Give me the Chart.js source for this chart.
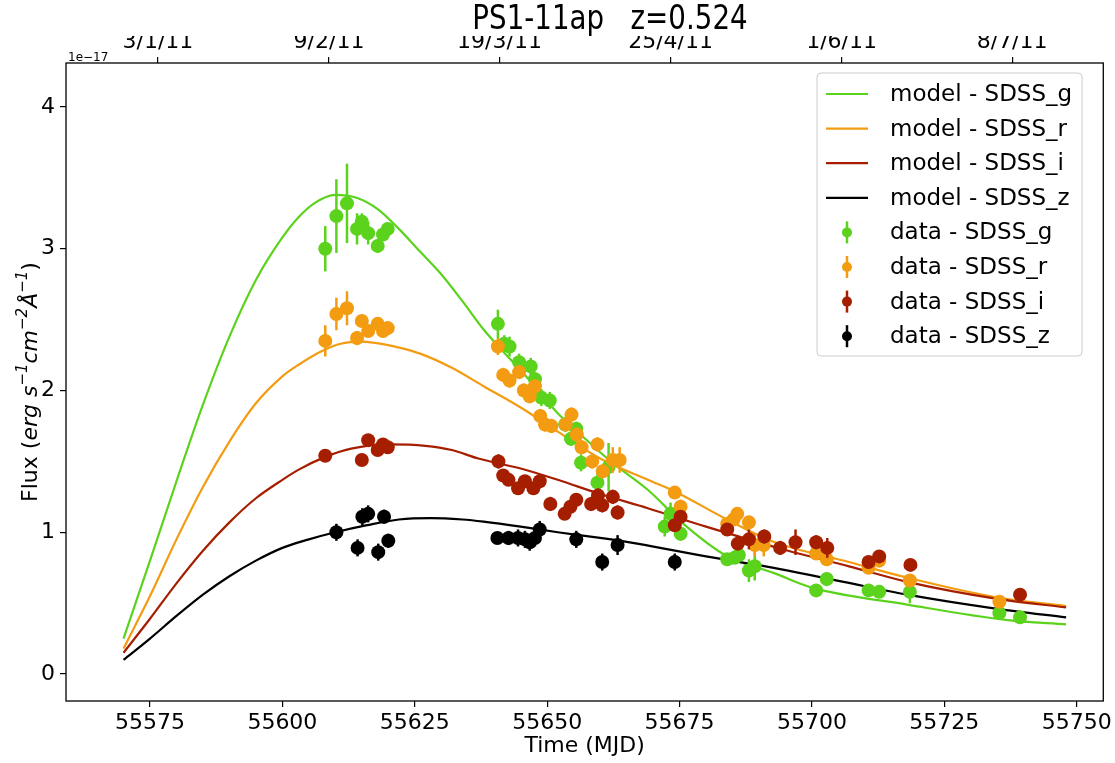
<!DOCTYPE html>
<html>
<head>
<meta charset="utf-8">
<script src="https://cdn.jsdelivr.net/npm/chart.js@4.4.1/dist/chart.umd.min.js"></script>
<style>
  html, body { margin: 0; padding: 0; background: #fff; }
  #wrap { width: 1115px; height: 763px; }
</style>
</head>
<body>
<div id="wrap"><canvas id="chart" width="1115" height="763"></canvas></div>
<script>
// PS1-11ap light curve (flux in units of 1e-17)
const FONT = 'DejaVu Sans';

const xTicks = [55575, 55600, 55625, 55650, 55675, 55700, 55725, 55750];
const yTicks = [0, 1, 2, 3, 4];
const topTickPos = [55576.5, 55608.8, 55641.0, 55673.3, 55705.6, 55737.8];
const topTickLabels = ['3/1/11', '9/2/11', '19/3/11', '25/4/11', '1/6/11', '8/7/11'];

// model curves
const gModT = [55570, 55575, 55580, 55585, 55590, 55595, 55600, 55603, 55606, 55610, 55614, 55618, 55622, 55626, 55630, 55634, 55638, 55646, 55652, 55656, 55662, 55669, 55676, 55684, 55693, 55700, 55718, 55737, 55748];
const gModF = [0.25, 0.80, 1.36, 1.90, 2.38, 2.78, 3.08, 3.22, 3.32, 3.38, 3.36, 3.28, 3.14, 2.98, 2.82, 2.63, 2.43, 2.10, 1.84, 1.70, 1.50, 1.30, 1.05, 0.83, 0.71, 0.61, 0.49, 0.38, 0.35];
const rModT = [55570, 55575, 55580, 55585, 55590, 55595, 55600, 55603, 55607, 55611, 55615, 55620, 55626, 55632, 55638, 55645, 55652, 55660, 55669, 55674, 55684, 55693, 55707, 55718, 55735, 55748];
const rModF = [0.18, 0.55, 0.95, 1.32, 1.64, 1.91, 2.10, 2.18, 2.27, 2.33, 2.345, 2.32, 2.26, 2.16, 2.03, 1.88, 1.71, 1.52, 1.37, 1.29, 1.09, 0.93, 0.79, 0.68, 0.54, 0.48];
const iModT = [55570, 55575, 55580, 55585, 55590, 55595, 55600, 55603, 55608, 55613, 55620, 55627, 55632, 55637, 55645, 55652, 55660, 55669, 55680, 55695, 55707, 55718, 55735, 55748];
const iModF = [0.15, 0.39, 0.64, 0.87, 1.07, 1.24, 1.37, 1.44, 1.53, 1.59, 1.62, 1.61, 1.58, 1.52, 1.45, 1.37, 1.27, 1.17, 1.04, 0.875, 0.76, 0.65, 0.53, 0.47];
const zModT = [55570, 55575, 55580, 55585, 55590, 55595, 55600, 55605, 55610, 55616, 55622, 55628, 55634, 55638, 55645, 55652, 55660, 55667, 55680, 55694, 55706, 55718, 55735, 55748];
const zModF = [0.10, 0.25, 0.41, 0.56, 0.69, 0.80, 0.89, 0.95, 1.00, 1.05, 1.09, 1.10, 1.09, 1.075, 1.04, 1.00, 0.96, 0.92, 0.83, 0.74, 0.65, 0.56, 0.46, 0.40];

// observed photometry
const gT = [55608.1, 55610.2, 55612.2, 55614.1, 55615.0, 55616.2, 55618.0, 55619.0, 55619.9, 55640.7, 55641.9, 55642.9, 55644.7, 55646.9, 55647.7, 55648.9, 55650.5, 55653.4, 55654.5, 55655.5, 55656.4, 55659.5, 55661.6, 55672.2, 55673.3, 55675.2, 55684.0, 55685.4, 55686.2, 55688.1, 55689.2, 55700.8, 55702.8, 55710.7, 55712.7, 55718.5, 55735.4, 55739.3];
const gF = [3.00, 3.23, 3.32, 3.14, 3.19, 3.11, 3.02, 3.10, 3.14, 2.47, 2.33, 2.31, 2.20, 2.17, 2.08, 1.95, 1.93, 1.76, 1.66, 1.73, 1.49, 1.35, 1.46, 1.04, 1.13, 0.99, 0.81, 0.82, 0.84, 0.73, 0.76, 0.59, 0.67, 0.59, 0.58, 0.58, 0.43, 0.40];
const gE = [0.16, 0.26, 0.28, 0.11, 0.06, 0.08, 0.05, 0.04, 0.04, 0.10, 0.06, 0.07, 0.06, 0.06, 0.05, 0.06, 0.06, 0.05, 0.05, 0.05, 0.06, 0.06, 0.17, 0.07, 0.08, 0.05, 0.04, 0.04, 0.04, 0.08, 0.10, 0.04, 0.05, 0.04, 0.04, 0.08, 0.03, 0.04];

const rT = [55608.1, 55610.2, 55612.2, 55614.1, 55615.0, 55616.2, 55618.0, 55619.0, 55619.9, 55640.7, 55641.7, 55642.9, 55644.7, 55645.6, 55646.7, 55647.7, 55648.7, 55649.6, 55650.8, 55653.5, 55654.6, 55655.6, 55656.5, 55658.5, 55659.5, 55660.5, 55662.4, 55663.7, 55674.1, 55675.2, 55684.0, 55685.2, 55685.9, 55688.1, 55689.2, 55690.9, 55700.8, 55702.8, 55710.7, 55712.7, 55718.5, 55735.4];
const rF = [2.35, 2.54, 2.58, 2.37, 2.49, 2.42, 2.47, 2.42, 2.44, 2.31, 2.11, 2.07, 2.13, 2.00, 1.96, 2.03, 1.82, 1.76, 1.75, 1.76, 1.83, 1.69, 1.60, 1.50, 1.62, 1.43, 1.51, 1.51, 1.28, 1.18, 1.06, 1.09, 1.13, 1.07, 0.91, 0.91, 0.85, 0.81, 0.75, 0.80, 0.66, 0.51];
const rE = [0.11, 0.115, 0.12, 0.05, 0.04, 0.04, 0.04, 0.04, 0.03, 0.06, 0.05, 0.05, 0.05, 0.05, 0.05, 0.05, 0.05, 0.05, 0.05, 0.05, 0.05, 0.05, 0.05, 0.05, 0.05, 0.05, 0.09, 0.09, 0.04, 0.05, 0.04, 0.04, 0.04, 0.04, 0.08, 0.08, 0.04, 0.04, 0.04, 0.04, 0.04, 0.03];

const iT = [55608.1, 55615.0, 55616.2, 55618.0, 55619.0, 55619.9, 55640.8, 55641.7, 55642.7, 55644.5, 55645.8, 55647.4, 55648.6, 55650.6, 55653.3, 55654.4, 55655.5, 55658.3, 55659.6, 55660.4, 55662.4, 55663.3, 55674.1, 55675.2, 55684.0, 55686.0, 55688.1, 55691.0, 55694.0, 55696.9, 55700.8, 55702.9, 55710.7, 55712.7, 55718.6, 55739.3];
const iF = [1.54, 1.51, 1.65, 1.58, 1.62, 1.60, 1.50, 1.40, 1.37, 1.31, 1.36, 1.31, 1.36, 1.20, 1.13, 1.18, 1.23, 1.20, 1.26, 1.19, 1.25, 1.14, 1.05, 1.11, 1.02, 0.92, 0.95, 0.97, 0.89, 0.93, 0.93, 0.89, 0.79, 0.83, 0.77, 0.56];
const iE = [0.03, 0.03, 0.03, 0.03, 0.03, 0.03, 0.05, 0.03, 0.03, 0.03, 0.03, 0.03, 0.05, 0.05, 0.04, 0.04, 0.04, 0.05, 0.05, 0.05, 0.05, 0.05, 0.04, 0.04, 0.04, 0.04, 0.07, 0.05, 0.05, 0.09, 0.05, 0.07, 0.04, 0.04, 0.04, 0.03];

const zT = [55610.2, 55614.2, 55615.1, 55616.2, 55618.1, 55619.2, 55620.0, 55640.6, 55642.7, 55644.5, 55645.8, 55646.7, 55647.7, 55648.6, 55655.5, 55660.4, 55663.3, 55674.1];
const zF = [1.00, 0.89, 1.11, 1.13, 0.86, 1.11, 0.94, 0.96, 0.96, 0.96, 0.95, 0.93, 0.96, 1.02, 0.95, 0.79, 0.91, 0.79];
const zE = [0.06, 0.06, 0.06, 0.06, 0.06, 0.05, 0.05, 0.04, 0.05, 0.06, 0.06, 0.06, 0.06, 0.06, 0.06, 0.06, 0.07, 0.06];

const COL = { g: '#5bd31d', r: '#f39c12', i: '#a61e00', z: '#000000' };

function pts(t, f) { return t.map((v, k) => ({ x: v, y: f[k] })); }

function modelSet(label, t, f, c, ord) {
  return { label, data: pts(t, f), showLine: true, borderColor: c, borderWidth: 2.2, pointRadius: 0,
    cubicInterpolationMode: 'monotone', fill: false, order: ord };
}
function dataSet(label, t, f, e, c, ord) {
  return { label, data: pts(t, f), errors: e, showLine: false, backgroundColor: c, borderWidth: 0,
    pointRadius: 7, pointHoverRadius: 7, order: ord };
}

const errorBars = {
  id: 'errorBars',
  beforeDatasetDraw(chart, args) {
    const ds = chart.data.datasets[args.index];
    if (!ds.errors) return;
    const { ctx, scales: { x, y } } = chart;
    ctx.save();
    ctx.strokeStyle = ds.backgroundColor;
    ctx.lineWidth = 2.5;
    ds.data.forEach((p, k) => {
      const px = x.getPixelForValue(p.x);
      ctx.beginPath();
      ctx.moveTo(px, y.getPixelForValue(p.y - ds.errors[k]));
      ctx.lineTo(px, y.getPixelForValue(p.y + ds.errors[k]));
      ctx.stroke();
    });
    ctx.restore();
  }
};

const decorations = {
  id: 'decorations',
  afterDraw(chart) {
    const { ctx, chartArea: a } = chart;
    ctx.save();
    // frame
    ctx.strokeStyle = '#000'; ctx.lineWidth = 1.3;
    ctx.strokeRect(a.left, a.top, a.right - a.left, a.bottom - a.top);
    // title (narrow, tall lettering like the reference)
    ctx.fillStyle = '#000';
    ctx.save();
    ctx.translate(610, 20);
    ctx.scale(0.84, 1);
    ctx.font = '33px ' + FONT; ctx.textAlign = 'center'; ctx.textBaseline = 'middle';
    ctx.fillText('PS1-11ap   z=0.524', 0, 0);
    ctx.restore();
    // offset text
    ctx.font = '12px ' + FONT; ctx.textBaseline = 'alphabetic'; ctx.textAlign = 'left';
    ctx.fillText('1e\u221217', a.left + 2, a.top - 2);
    // y title with italic units and superscripts
    const parts = [['Flux (', 'normal', 22, 0], ['erg s', 'italic', 22, 0], ['\u22121', 'italic', 15, -8],
      ['cm', 'italic', 22, 0], ['\u22122', 'italic', 15, -8], ['\u00c5', 'italic', 22, 0], ['\u22121', 'italic', 15, -8], [')', 'normal', 22, 0]];
    let total = 0;
    parts.forEach(p => { ctx.font = p[1] + ' ' + p[2] + 'px ' + FONT; total += ctx.measureText(p[0]).width; });
    ctx.translate(24, (a.top + a.bottom) / 2);
    ctx.rotate(-Math.PI / 2);
    let cx = -total / 2;
    ctx.textBaseline = 'middle';
    parts.forEach(p => {
      ctx.font = p[1] + ' ' + p[2] + 'px ' + FONT;
      ctx.fillText(p[0], cx, 7 + p[3]);
      cx += ctx.measureText(p[0]).width;
    });
    ctx.restore();

    // legend
    ctx.save();
    const lx = 817, ly = 73, lw = 265, lh = 283;
    ctx.beginPath();
    ctx.roundRect(lx, ly, lw, lh, 4);
    ctx.fillStyle = 'rgba(255,255,255,0.8)'; ctx.fill();
    ctx.strokeStyle = '#cccccc'; ctx.lineWidth = 1; ctx.stroke();
    const rows = [
      ['model - SDSS_g', COL.g, 'line'], ['model - SDSS_r', COL.r, 'line'], ['model - SDSS_i', COL.i, 'line'], ['model - SDSS_z', COL.z, 'line'],
      ['data - SDSS_g', COL.g, 'pt'], ['data - SDSS_r', COL.r, 'pt'], ['data - SDSS_i', COL.i, 'pt'], ['data - SDSS_z', COL.z, 'pt']
    ];
    ctx.font = '23px ' + FONT; ctx.textBaseline = 'middle'; ctx.textAlign = 'left';
    rows.forEach((r, k) => {
      const yy = 94 + k * 34.6;
      ctx.strokeStyle = r[1]; ctx.fillStyle = r[1];
      if (r[2] === 'line') {
        ctx.lineWidth = 2.2;
        ctx.beginPath(); ctx.moveTo(826, yy); ctx.lineTo(868, yy); ctx.stroke();
      } else {
        ctx.lineWidth = 2.5;
        ctx.beginPath(); ctx.moveTo(847, yy - 11); ctx.lineTo(847, yy + 11); ctx.stroke();
        ctx.beginPath(); ctx.arc(847, yy, 5, 0, Math.PI * 2); ctx.fill();
      }
      ctx.fillStyle = '#000';
      ctx.fillText(r[0], 890, yy + 1);
    });
    ctx.restore();
  }
};

const tickFont = { family: FONT, size: 22 };

new Chart(document.getElementById('chart'), {
  type: 'scatter',
  data: {
    datasets: [
      dataSet('data - SDSS_z', zT, zF, zE, COL.z, 1),
      dataSet('data - SDSS_i', iT, iF, iE, COL.i, 2),
      dataSet('data - SDSS_r', rT, rF, rE, COL.r, 3),
      dataSet('data - SDSS_g', gT, gF, gE, COL.g, 4),
      modelSet('model - SDSS_z', zModT, zModF, COL.z, 5),
      modelSet('model - SDSS_i', iModT, iModF, COL.i, 6),
      modelSet('model - SDSS_r', rModT, rModF, COL.r, 7),
      modelSet('model - SDSS_g', gModT, gModF, COL.g, 8)
    ]
  },
  options: {
    responsive: false,
    animation: false,
    layout: { padding: { left: 0, right: 8, top: 36, bottom: 0 } },
    plugins: {
      legend: { display: false },
      tooltip: { enabled: false },
      title: { display: false }
    },
    scales: {
      x: {
        type: 'linear', position: 'bottom', min: 55559.14, max: 55755.02,
        afterBuildTicks: s => { s.ticks = xTicks.map(v => ({ value: v })); },
        afterFit: s => { s.height = 62; },
        ticks: { font: tickFont, color: '#000', padding: 3, maxRotation: 0, autoSkip: false, callback: v => String(v) },
        grid: { display: true, drawOnChartArea: false, drawTicks: true, tickLength: 6, color: '#000', lineWidth: 1.2 },
        border: { display: false },
        title: { display: true, text: 'Time (MJD)', color: '#000', font: { family: FONT, size: 22 }, padding: { top: 0, bottom: 4 } }
      },
      x2: {
        type: 'linear', position: 'top', min: 55559.14, max: 55755.02,
        afterBuildTicks: s => { s.ticks = topTickPos.map(v => ({ value: v })); },
        afterFit: s => { s.height = 27; },
        ticks: { font: tickFont, color: '#000', padding: 2, maxRotation: 0, autoSkip: false,
          callback: (v, k) => topTickLabels[k] },
        grid: { display: true, drawOnChartArea: false, drawTicks: true, tickLength: 6, color: '#000', lineWidth: 1.2 },
        border: { display: false }
      },
      y: {
        type: 'linear', position: 'left', min: -0.19, max: 4.31,
        afterBuildTicks: s => { s.ticks = yTicks.map(v => ({ value: v })); },
        afterFit: s => { s.width = 66; },
        ticks: { font: tickFont, color: '#000', padding: 5, callback: v => String(v) },
        grid: { display: true, drawOnChartArea: false, drawTicks: true, tickLength: 6, color: '#000', lineWidth: 1.2 },
        border: { display: false }
      }
    }
  },
  plugins: [errorBars, decorations]
});
</script>
</body>
</html>
